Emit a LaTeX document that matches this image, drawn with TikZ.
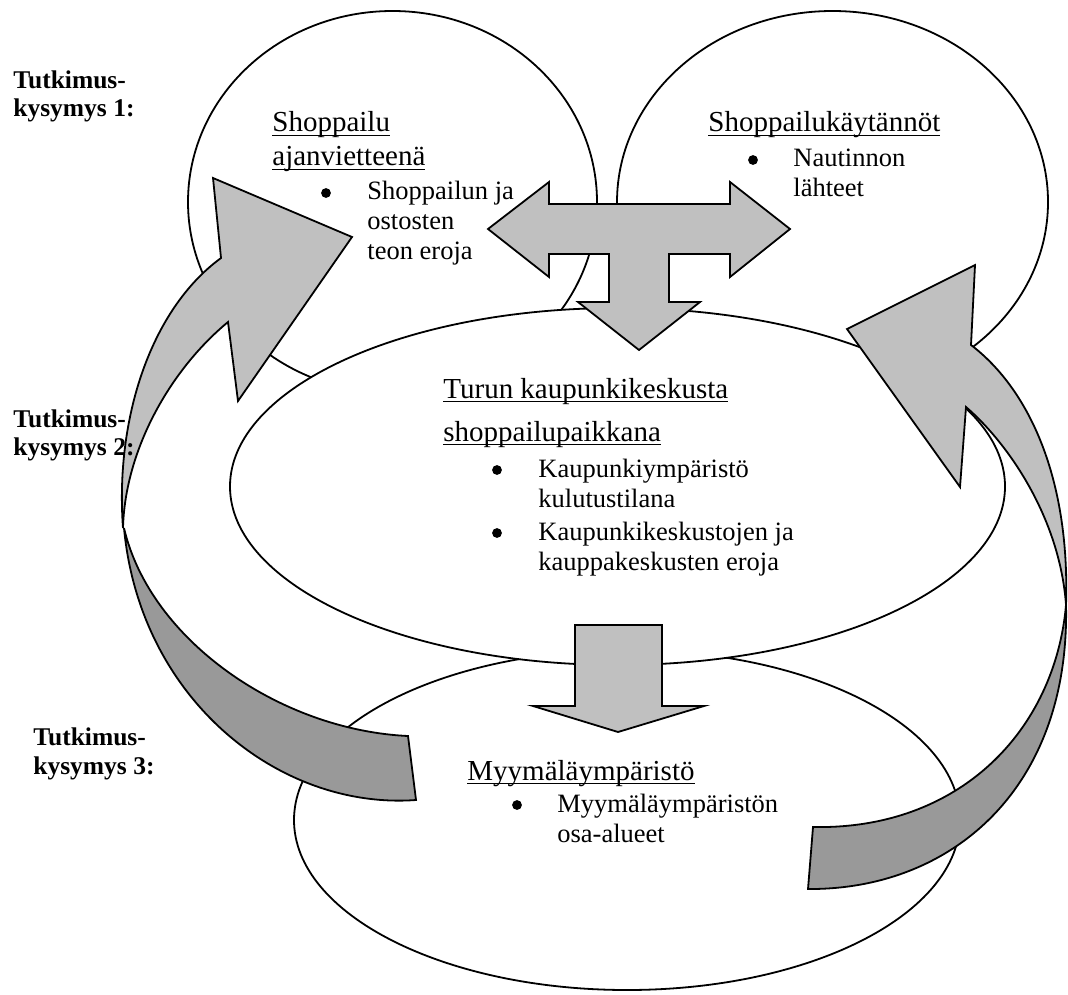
\documentclass[tikz,border=0pt]{standalone}
\usepackage{fontspec}
\setmainfont{Liberation Serif}

\definecolor{frontgray}{HTML}{C0C0C0}
\definecolor{backgray}{HTML}{999999}

% underline at a fixed depth (like a word processor)
\newcommand{\undr}[1]{\setbox0=\hbox{#1}\rlap{\rule[-2.2pt]{\wd0}{0.8pt}}\box0}

\tikzset{
  bubble/.style={draw, fill=white, line width=0.9pt},
  lightarrow/.style={draw, fill=frontgray, line width=0.9pt, line join=miter},
  darkarrow/.style={draw, fill=backgray, line width=0.9pt, line join=miter},
  qlabel/.style={font=\fontsize{12.75}{14}\selectfont\bfseries, anchor=base west, inner sep=0pt},
  headtext/.style={font=\fontsize{14.5}{17}\selectfont, anchor=base west, inner sep=0pt},
  itemtext/.style={font=\fontsize{13.25}{15}\selectfont, anchor=base west, inner sep=0pt},
  bulletmark/.style={circle, fill=black, inner sep=0pt, minimum size=4.9pt}
}

\begin{document}
\begin{tikzpicture}[x=0.5pt,y=-0.5pt]
\useasboundingbox (0,0) rectangle (1068,994);

    % the four areas
\draw[bubble] (627,820) ellipse (333 and 170);
\draw[bubble] (392.5,202) ellipse (204.5 and 191);
\draw[bubble] (832.5,202) ellipse (215.5 and 191);
\draw[bubble] (617.5,486.5) ellipse (387.5 and 178.5);

    % three-way arrow between the upper areas
\draw[lightarrow] (488,229) -- (549,182) -- (549,204) -- (730,204) -- (730,182)
    -- (790,229) -- (730,277) -- (730,254) -- (669,254) -- (669,302) -- (700,302)
    -- (639,350) -- (578,302) -- (609,302) -- (609,254) -- (549,254) -- (549,277) -- cycle;

    % arrow down to the shop
\draw[lightarrow] (575,625) -- (662,625) -- (662,706) -- (704,706) -- (618,732)
    -- (533,706) -- (575,706) -- cycle;

    % left curved arrow (back side, then front side with head)
\draw[darkarrow] (124,528) .. controls (150,640) and (280,730) .. (408,736) -- (416,800)
    .. controls (280,810) and (140,700) .. (124,528) -- cycle;
\draw[lightarrow] (123,528) .. controls (115,420) and (150,310) .. (221,258) -- (213,178)
    -- (352,237) -- (238,401) -- (228,322) .. controls (170,370) and (125,450) .. (123,528) -- cycle;

    % right curved arrow
\draw[darkarrow] (1066,605) .. controls (1055,730) and (960,830) .. (813,827) -- (808,889)
    .. controls (950,890) and (1070,790) .. (1066,605) -- cycle;
\draw[lightarrow] (1066,605) .. controls (1070,480) and (1030,390) .. (971,345) -- (975,265)
    -- (847,329) -- (960,487) -- (966,407) .. controls (1010,445) and (1060,520) .. (1066,605) -- cycle;

    % Labels for the research questions
\node[qlabel] (q1a) at (13,89) {Tutkimus-};
\node[qlabel] (q1b) at (13,117) {kysymys 1:};
\node[qlabel] (q2a) at (13,427) {Tutkimus-};
\node[qlabel] (q2b) at (13,455) {kysymys 2:};
\node[qlabel] (q3a) at (33,745) {Tutkimus-};
\node[qlabel] (q3b) at (33,774) {kysymys 3:};

    % top left
\node[headtext] (ajanv1) at (272,132) {\undr{Shoppailu}};
\node[headtext] (ajanv2) at (272,166) {\undr{ajanvietteenä}};
\node[bulletmark] (b1) at (326,193) {};
\node[itemtext] (erot1) at (367,200) {Shoppailun ja};
\node[itemtext] (erot2) at (367,230) {ostosten};
\node[itemtext] (erot3) at (367,260) {teon eroja};

    % top right
\node[headtext] (kaytannot) at (708,132) {\undr{Shoppailukäytännöt}};
\node[bulletmark] (b2) at (753,160) {};
\node[itemtext] (naut1) at (793,167) {Nautinnon};
\node[itemtext] (naut2) at (793,197) {lähteet};

    % middle
\node[headtext] (turku1) at (443,398) {\undr{Turun kaupunkikeskusta}};
\node[headtext] (turku2) at (443,441) {\undr{shoppailupaikkana}};
\node[bulletmark] (b3) at (497,470) {};
\node[itemtext] (kaup1) at (538,477) {Kaupunkiympäristö};
\node[itemtext] (kaup2) at (538,507) {kulutustilana};
\node[bulletmark] (b4) at (497,533) {};
\node[itemtext] (kesk1) at (538,540) {Kaupunkikeskustojen ja};
\node[itemtext] (kesk2) at (538,570) {kauppakeskusten eroja};

    % bottom
\node[headtext] (myym) at (467,780) {\undr{Myymäläympäristö}};
\node[bulletmark] (b5) at (517,805) {};
\node[itemtext] (osa1) at (557,812) {Myymäläympäristön};
\node[itemtext] (osa2) at (557,842) {osa-alueet};

\end{tikzpicture}
\end{document}
